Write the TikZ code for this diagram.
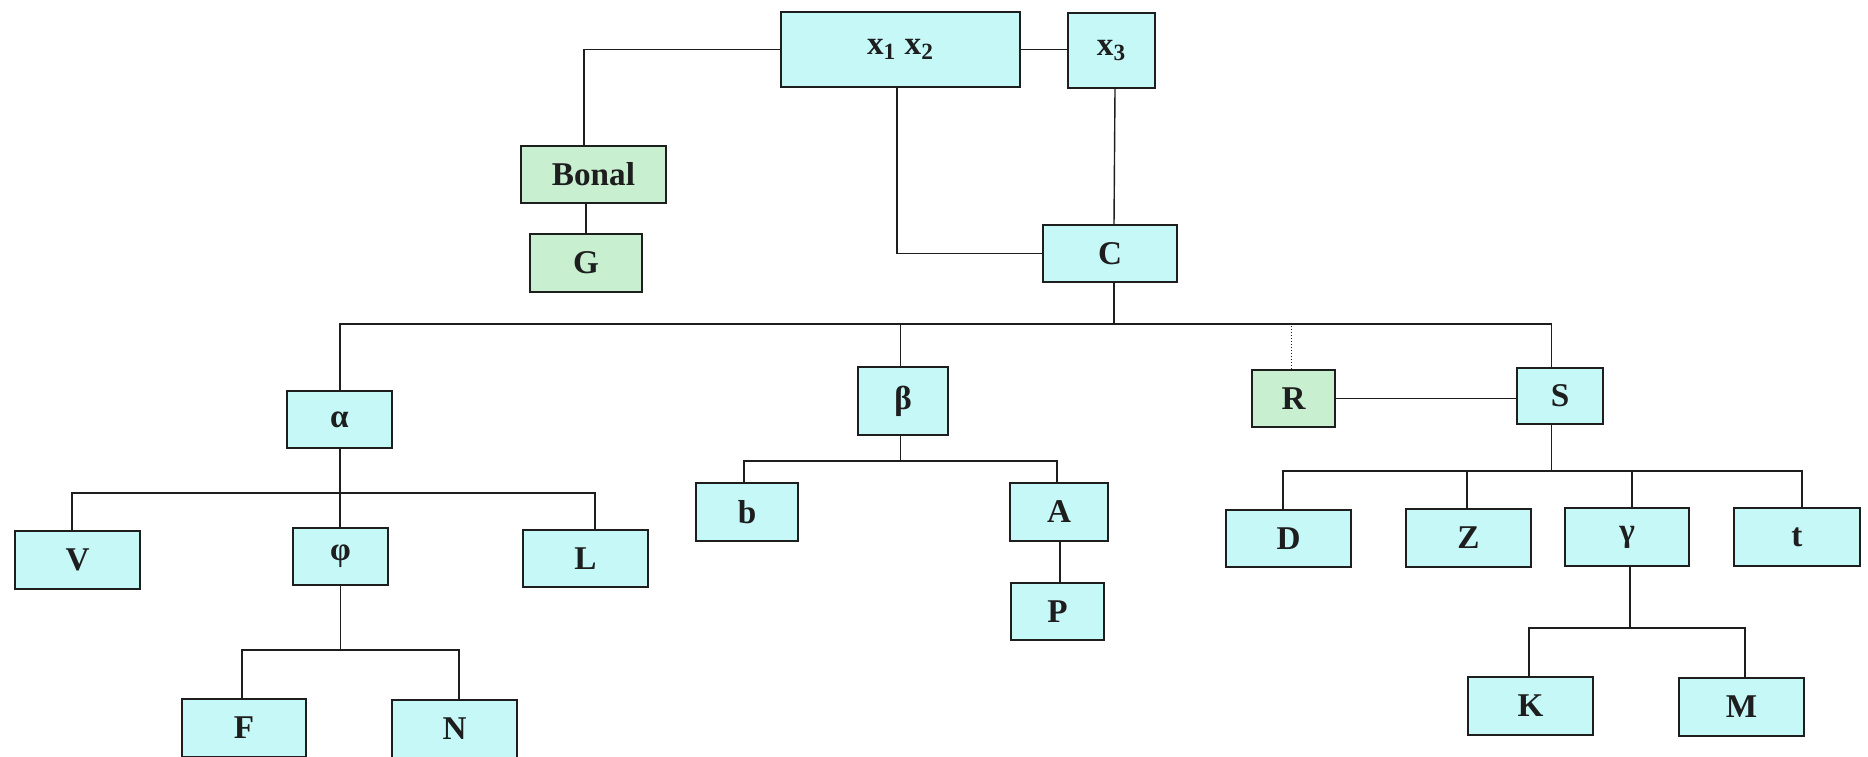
\documentclass[tikz,border=0pt]{standalone}
\usepackage{fontspec}
\setmainfont{Liberation Serif}
\definecolor{boxcyan}{RGB}{198,248,248}
\definecolor{boxgreen}{RGB}{200,240,208}
\definecolor{ink}{RGB}{30,30,30}
\tikzset{
  bx/.style={draw=ink, line width=0.8pt, fill=boxcyan, inner sep=0pt,
     font=\fontsize{16.6pt}{18pt}\selectfont\bfseries, text=ink},
  gbx/.style={bx, fill=boxgreen},
  wire/.style={draw=ink, line width=0.7pt},
}
\begin{document}
\begin{tikzpicture}[x=0.5pt,y=-0.5pt]
\useasboundingbox (0,0) rectangle (1868,756);
\clip (0,0) rectangle (1868,756);
\fill[white] (0,0) rectangle (1868,756);
% nodes
\node[bx, minimum width=119.5pt, minimum height=37.5pt] (x12) at (900.5,49.5) {x\textsubscript{1} x\textsubscript{2}};
\node[bx, minimum width=43.5pt, minimum height=37.5pt] (x3) at (1111.5,50.5) {x\textsubscript{3}};
\node[gbx, minimum width=72.5pt, minimum height=28.5pt] (Bonal) at (593.5,174.5) {Bonal};
\node[gbx, minimum width=56pt, minimum height=29pt] (G) at (586,263) {G};
\node[bx, minimum width=67pt, minimum height=28.5pt] (C) at (1110,253.5) {C};
\node[bx, minimum width=52.5pt, minimum height=28.5pt] (alpha) at (339.5,419.5) {α};
\node[bx, minimum width=45pt, minimum height=34pt] (beta) at (903,401) {β};
\node[gbx, minimum width=41.5pt, minimum height=28.5pt] (R) at (1293.5,398.5) {R};
\node[bx, minimum width=43pt, minimum height=28pt] (S) at (1560,396) {S};
\node[bx, minimum width=62.5pt, minimum height=29pt] (V) at (77.5,560) {V};
\node[bx, minimum width=47.5pt, minimum height=28.5pt] (phi) at (340.5,556.5) {φ};
\node[bx, minimum width=62.5pt, minimum height=28.5pt] (L) at (585.5,558.5) {L};
\node[bx, minimum width=51pt, minimum height=29pt] (b) at (747,512) {b};
\node[bx, minimum width=49pt, minimum height=29pt] (A) at (1059,512) {A};
\node[bx, minimum width=46.5pt, minimum height=28.5pt] (P) at (1057.5,611.5) {P};
\node[bx, minimum width=62.5pt, minimum height=28.5pt] (D) at (1288.5,538.5) {D};
\node[bx, minimum width=62.5pt, minimum height=29pt] (Z) at (1468.5,538) {Z};
\node[bx, minimum width=62pt, minimum height=29pt] (gamma) at (1627,537) {γ};
\node[bx, minimum width=63pt, minimum height=29pt] (t) at (1797,537) {t};
\node[bx, minimum width=62.5pt, minimum height=29pt] (K) at (1530.5,706) {K};
\node[bx, minimum width=62.5pt, minimum height=29pt] (M) at (1741.5,707) {M};
\node[bx, minimum width=62pt, minimum height=29pt] (F) at (244,728) {F};
\node[bx, minimum width=62.5pt, minimum height=29pt] (N) at (454.5,729) {N};
% junction coordinates
\coordinate (bt) at (584,146);
\coordinate (cb) at (1114,324);
\coordinate (ab) at (340,493);
\coordinate (pb) at (340.5,650);
\coordinate (bb) at (900.5,461);
\coordinate (sb) at (1551.5,471);
\coordinate (gb) at (1630,628);
% top connectors
\draw[wire] (x12.west) -| (bt);
\draw[wire] (G.north) -- (G.north |- Bonal.south);
\draw[wire] (x12.east) -- (x12.east -| x3.west);
\draw[wire] ([shift={(-3.5,0)}]x12.south) |- (C.west);
\draw[wire] ([shift={(3.5,0)}]x3.south) -- ([shift={(4,0)}]C.north);
\draw[wire] ([shift={(4,0)}]C.south) -- (cb);
% main bus
\draw[wire] ([shift={(0.5,0)}]alpha.north) |- (cb) -| ([shift={(-8.5,0)}]S.north);
\draw[wire] ([shift={(-2.5,0)}]beta.north) -- ([shift={(-2.5,0)}]beta.north |- cb);
\draw[ink, line width=0.5pt, densely dotted] ([shift={(-2.5,0)}]R.north) -- ([shift={(-2.5,0)}]R.north |- cb);
\draw[wire] (R.east) -- (R.east -| S.west);
% alpha subtree
\draw[wire] ([shift={(0.5,0)}]alpha.south) -- (ab) -- (ab |- phi.north);
\draw[wire] ([shift={(-5.5,0)}]V.north) |- (ab) -| ([shift={(9.5,0)}]L.north);
\draw[wire] (pb |- phi.south) -- (pb);
\draw[wire] ([shift={(-2,0)}]F.north) |- (pb) -| ([shift={(4.5,0)}]N.north);
% beta subtree
\draw[wire] (bb |- beta.south) -- (bb);
\draw[wire] ([shift={(-3,0)}]b.north) |- (bb) -| ([shift={(-2,0)}]A.north);
\draw[wire] ([shift={(1,0)}]A.south) -- ([shift={(1,0)}]A.south |- P.north);
% S subtree
\draw[wire] (sb |- S.south) -- (sb);
\draw[wire] ([shift={(-5.5,0)}]D.north) |- (sb) -| ([shift={(5,0)}]t.north);
\draw[wire] ([shift={(-1.5,0)}]Z.north) -- ([shift={(-1.5,0)}]Z.north |- sb);
\draw[wire] ([shift={(5,0)}]gamma.north) -- ([shift={(5,0)}]gamma.north |- sb);
% gamma subtree
\draw[wire] (gb |- gamma.south) -- (gb);
\draw[wire] ([shift={(-1.5,0)}]K.north) |- (gb) -| ([shift={(3.5,0)}]M.north);
\end{tikzpicture}
\end{document}
